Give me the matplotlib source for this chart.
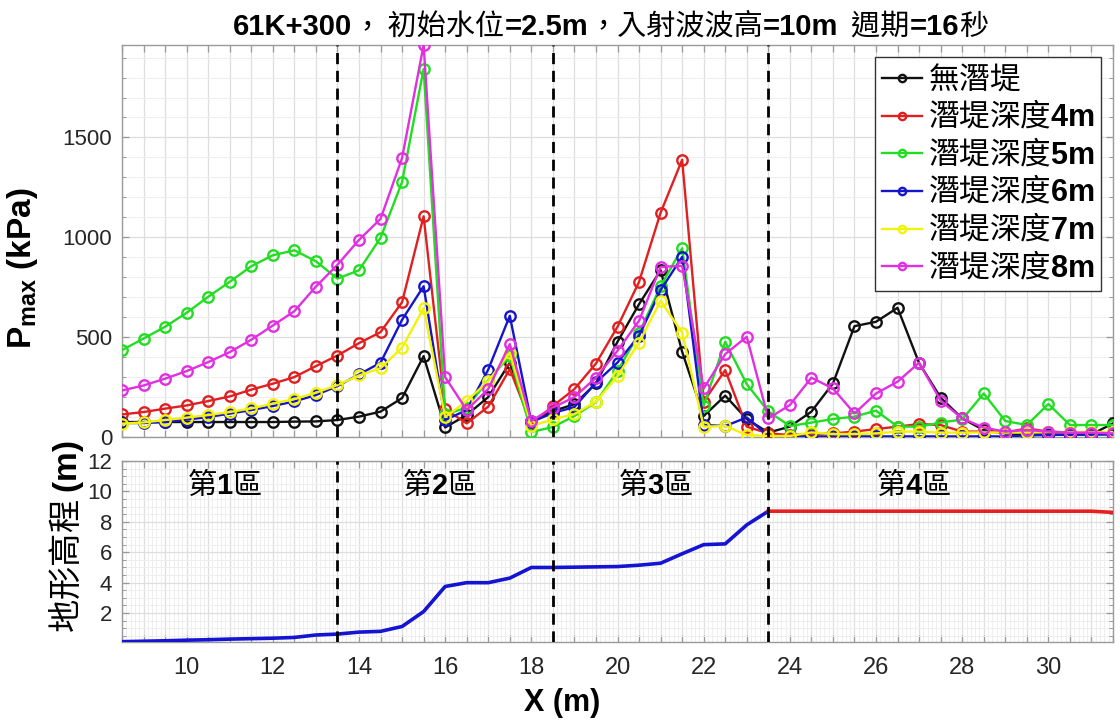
import matplotlib
matplotlib.use("Agg")
import matplotlib.pyplot as plt
from matplotlib.font_manager import FontProperties
from matplotlib.offsetbox import TextArea, HPacker, AnchoredOffsetbox
from matplotlib.ticker import MultipleLocator, FixedLocator, FuncFormatter

LATIN = "Liberation Sans"
CJK = "Noto Sans CJK TC"
plt.rcParams["font.family"] = [LATIN, CJK, "DejaVu Sans"]
plt.rcParams["mathtext.fontset"] = "custom"
plt.rcParams["mathtext.rm"] = LATIN
plt.rcParams["mathtext.bf"] = LATIN + ":bold"
plt.rcParams["mathtext.it"] = LATIN + ":italic"

# ---- data -------------------------------------------------------------
x_pos = [8.5, 9.0, 9.5, 10.0, 10.5, 11.0, 11.5, 12.0, 12.5, 13.0, 13.5, 14.0,
         14.5, 15.0, 15.5, 16.0, 16.5, 17.0, 17.5, 18.0, 18.5, 19.0, 19.5, 20.0,
         20.5, 21.0, 21.5, 22.0, 22.5, 23.0, 23.5, 24.0, 24.5, 25.0, 25.5, 26.0,
         26.5, 27.0, 27.5, 28.0, 28.5, 29.0, 29.5, 30.0, 30.5, 31.0, 31.5]

p_none = [75, 75, 75, 75, 75, 75, 75, 75, 77, 78, 85, 102, 127, 195, 405, 48,
          110, 200, 372, 80, 130, 164, 268, 477, 665, 835, 427, 105, 207, 90,
          22, 52, 127, 268, 555, 577, 647, 370, 197, 93, 35, 18, 13, 13, 12, 13, 68]
p_d4 = [113, 125, 142, 158, 180, 203, 237, 267, 300, 355, 408, 470, 525, 675,
        1105, 140, 68, 152, 340, 65, 155, 240, 368, 552, 777, 1123, 1388, 177,
        335, 52, 18, 10, 15, 18, 27, 40, 52, 65, 60, 27, 27, 22, 43, 27, 22, 22, 22]
p_d5 = [435, 493, 552, 622, 702, 777, 855, 910, 935, 880, 793, 835, 997, 1277,
        1843, 113, 147, 285, 405, 25, 50, 105, 175, 330, 520, 755, 945, 157, 477,
        265, 128, 55, 72, 90, 102, 132, 52, 52, 72, 88, 218, 80, 60, 165, 60, 60, 60]
p_d6 = [70, 70, 75, 87, 100, 117, 135, 155, 178, 210, 255, 313, 372, 587, 755,
        85, 135, 338, 607, 75, 120, 150, 273, 373, 507, 735, 902, 60, 55, 98, 5,
        3, 3, 3, 3, 3, 3, 3, 3, 3, 3, 3, 8, 10, 12, 12, 12]
p_d7 = [67, 73, 85, 97, 110, 125, 143, 167, 190, 222, 260, 308, 345, 447, 645,
        100, 180, 280, 422, 55, 88, 115, 177, 305, 473, 682, 523, 52, 55, 10, 5,
        5, 23, 15, 15, 18, 27, 27, 22, 22, 23, 22, 22, 25, 25, 25, 25]
p_d8 = [233, 258, 292, 330, 375, 425, 487, 558, 630, 753, 862, 987, 1092, 1397,
        1963, 300, 135, 240, 465, 80, 147, 200, 297, 432, 582, 852, 857, 243, 415,
        502, 93, 160, 297, 243, 118, 218, 277, 372, 182, 93, 47, 27, 35, 27, 22, 22, 18]

series_labels = ["無潛堤", "潛堤深度4m", "潛堤深度5m", "潛堤深度6m", "潛堤深度7m", "潛堤深度8m"]
series_values = [p_none, p_d4, p_d5, p_d6, p_d7, p_d8]
series_colors = ["#111111", "#e02020", "#22dd22", "#1515cc", "#f2f20a", "#e030e0"]

# sea-bed elevation
bed_x = [8.5, 9.0, 9.5, 10.0, 10.5, 11.0, 11.5, 12.0, 12.5, 13.0, 13.5, 14.0,
         14.5, 15.0, 15.5, 16.0, 16.5, 17.0, 17.5, 18.0, 18.5, 19.0, 19.5, 20.0,
         20.5, 21.0, 21.5, 22.0, 22.5, 23.0, 23.5]
bed_z = [0.12, 0.15, 0.18, 0.22, 0.25, 0.29, 0.32, 0.35, 0.40, 0.56, 0.62, 0.75,
         0.80, 1.12, 2.10, 3.75, 4.00, 4.00, 4.30, 5.00, 5.00, 5.02, 5.04, 5.06,
         5.15, 5.28, 5.90, 6.50, 6.55, 7.80, 8.70]
crest_x = [23.5, 31.0, 31.5]
crest_z = [8.70, 8.70, 8.62]

zone_bounds = [13.5, 18.5, 23.5]
zone_names = ["1", "2", "3", "4"]
zone_label_x = [10.0, 15.0, 20.0, 26.0]

title_parts = [("61K+300", True), ("，", False), (" 初始水位", False), ("=2.5m", True),
               ("，入射波波高", False), ("=10m", True), ("  週期", False),
               ("=16", True), ("秒", False)]

# ---- figure -------------------------------------------------------------
W, H = 1120, 720
fig = plt.figure(figsize=(W / 100, H / 100), dpi=100)
L, R = 122, 1113
ax1 = fig.add_axes([L / W, 1 - 437 / H, (R - L) / W, 392 / H])
ax2 = fig.add_axes([L / W, 1 - 642 / H, (R - L) / W, 181 / H])

spine_col = "#9a9a9a"
tick_col = "#262626"
for ax in (ax1, ax2):
    for s in ax.spines.values():
        s.set_color(spine_col)
        s.set_linewidth(1.0)
    ax.tick_params(which="both", direction="in", top=True, right=True,
                   colors=spine_col, labelcolor=tick_col, labelsize=16)
    ax.tick_params(which="major", length=5, width=0.9)
    ax.tick_params(which="minor", length=3, width=0.7)
    ax.set_xlim(8.5, 31.5)
    ax.xaxis.set_major_locator(MultipleLocator(0.5))
    ax.grid(True, which="major", color="#dedede", lw=0.9)
    ax.grid(True, which="minor", color="#eeeeee", lw=0.7)
    ax.set_axisbelow(True)
    for xb in zone_bounds:
        ax.axvline(xb, color="black", lw=2.0, ls=(0, (4, 2.4)), zorder=5)

# ---- upper panel: peak pressure -----------------------------------------
for lab, vals, col in zip(series_labels, series_values, series_colors):
    if lab.startswith("潛堤深度"):
        txt = "潛堤深度$\\mathbf{" + lab[4:] + "}$"
    else:
        txt = lab + "$\\,$"
    ax1.plot(x_pos, vals, "-o", color=col, lw=1.7, ms=7.5, mfc="none",
             mew=1.7, label=txt, zorder=3)

ax1.set_ylim(0, max(max(v) for v in series_values))
ax1.yaxis.set_major_locator(FixedLocator([0, 500, 1000, 1500]))
ax1.yaxis.set_minor_locator(MultipleLocator(100))
ax1.tick_params(axis="x", labelbottom=False)
ax1.tick_params(axis="y", pad=7)
ax1.set_ylabel("$\\mathbf{P}_{\\mathbf{max}}\\ \\mathbf{(kPa)}$", fontsize=24)
ax1.yaxis.set_label_coords(-0.083, 0.43)

leg = ax1.legend(loc="upper right", bbox_to_anchor=(0.988, 0.969),
                 borderaxespad=0, prop=FontProperties(family=CJK, size=22),
                 fancybox=False, framealpha=1, edgecolor="#333333",
                 handlelength=1.3, handletextpad=0.2, labelspacing=0.15,
                 borderpad=0.22, markerscale=0.7)
leg.get_frame().set_linewidth(1.0)

# title assembled from bold Latin pieces and regular CJK pieces
pieces = []
for txt, bold in title_parts:
    fp = FontProperties(family=LATIN if bold else CJK,
                        weight="bold" if bold else "normal", size=21)
    pieces.append(TextArea(txt, textprops=dict(fontproperties=fp, color="black")))
title_box = AnchoredOffsetbox(loc="lower center",
                              child=HPacker(children=pieces, align="baseline",
                                            pad=0, sep=0),
                              pad=0, borderpad=0, frameon=False,
                              bbox_to_anchor=(0.493, 1.0 + 3 / 392),
                              bbox_transform=ax1.transAxes)
ax1.add_artist(title_box)

# ---- lower panel: bed profile -------------------------------------------
ax2.plot(bed_x, bed_z, color="#1414d2", lw=2.6, zorder=3)
ax2.plot(crest_x, crest_z, color="#e62020", lw=2.6, zorder=3)
ax2.set_ylim(0.1, 12)
ax2.yaxis.set_major_locator(FixedLocator([2, 4, 6, 8, 10, 12]))
ax2.yaxis.set_minor_locator(MultipleLocator(0.5))
ax2.xaxis.set_minor_locator(MultipleLocator(0.1))
ax2.tick_params(axis="x", which="minor", length=0)
ax2.tick_params(axis="x", pad=11, labelsize=17)
ax2.tick_params(axis="y", pad=7)
ax2.xaxis.set_major_formatter(FuncFormatter(
    lambda v, p: f"{int(round(v))}" if abs(v - round(v)) < 1e-6 and int(round(v)) % 2 == 0 else ""))

for name, zx in zip(zone_names, zone_label_x):
    ax2.text(zx, 10.4, "第$\\mathbf{" + name + "}$區",
             fontproperties=FontProperties(family=CJK, size=21),
             ha="left", va="center", zorder=6)

ax2.set_xlabel("X (m)", fontsize=22, fontweight="bold")
ax2.xaxis.set_label_coords(0.444, -0.254)
ax2.set_ylabel("地形高程 $\\mathbf{(m)}$", fontproperties=FontProperties(family=CJK, size=24))
ax2.yaxis.set_label_coords(-0.036, 0.585)

fig.savefig("out.png", dpi=100)
